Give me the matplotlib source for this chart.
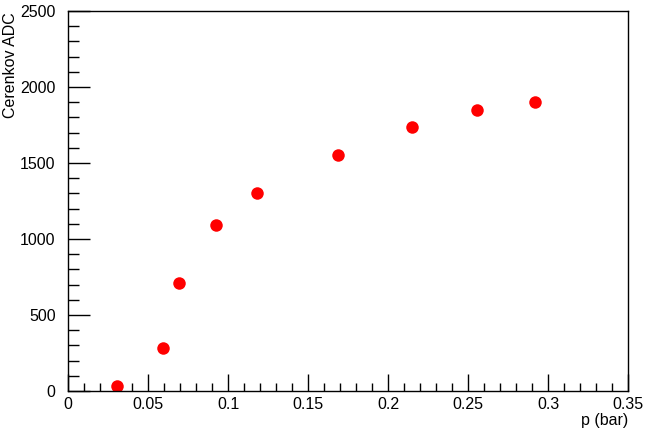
import numpy as np
import matplotlib
matplotlib.use('Agg')
import matplotlib.pyplot as plt
from matplotlib.ticker import MultipleLocator

# pressure (bar) vs Cerenkov ADC
pressure = [0.0306, 0.0594, 0.0694, 0.0925, 0.118, 0.169, 0.215, 0.2556, 0.292]
adc = [33, 283, 710, 1092, 1303, 1553, 1737, 1849, 1901]

plt.rcParams['font.family'] = ['Liberation Sans', 'DejaVu Sans']
plt.rcParams['font.size'] = 11.5

fig = plt.figure(figsize=(6.51, 4.34), dpi=100)
ax = fig.add_axes([68 / 651, 43 / 434, 560 / 651, 380 / 434])

ax.plot(pressure, adc, 'o', color='red', markersize=9, markeredgewidth=0)

ax.set_xlim(0, 0.35)
ax.set_ylim(0, 2500)
ax.xaxis.set_major_locator(MultipleLocator(0.05))
ax.xaxis.set_minor_locator(MultipleLocator(0.01))
ax.yaxis.set_major_locator(MultipleLocator(500))
ax.yaxis.set_minor_locator(MultipleLocator(100))

def fmt_x(v, pos):
    return ('%.2f' % v).rstrip('0').rstrip('.')
ax.xaxis.set_major_formatter(plt.FuncFormatter(fmt_x))

ax.tick_params(which='both', direction='in', top=False, right=False, width=1, color='black')
ax.tick_params(axis='x', which='major', length=12, pad=4)
ax.tick_params(axis='x', which='minor', length=6)
ax.tick_params(axis='y', which='major', length=16, pad=9)
ax.tick_params(axis='y', which='minor', length=8)
for sp in ax.spines.values():
    sp.set_linewidth(1)

ax.set_xlabel('p (bar)', loc='right', labelpad=1)
ax.set_ylabel('Cerenkov ADC', loc='top')
ax.yaxis.set_label_coords(-0.09, 0.997)

fig.savefig('out.png', dpi=100)
